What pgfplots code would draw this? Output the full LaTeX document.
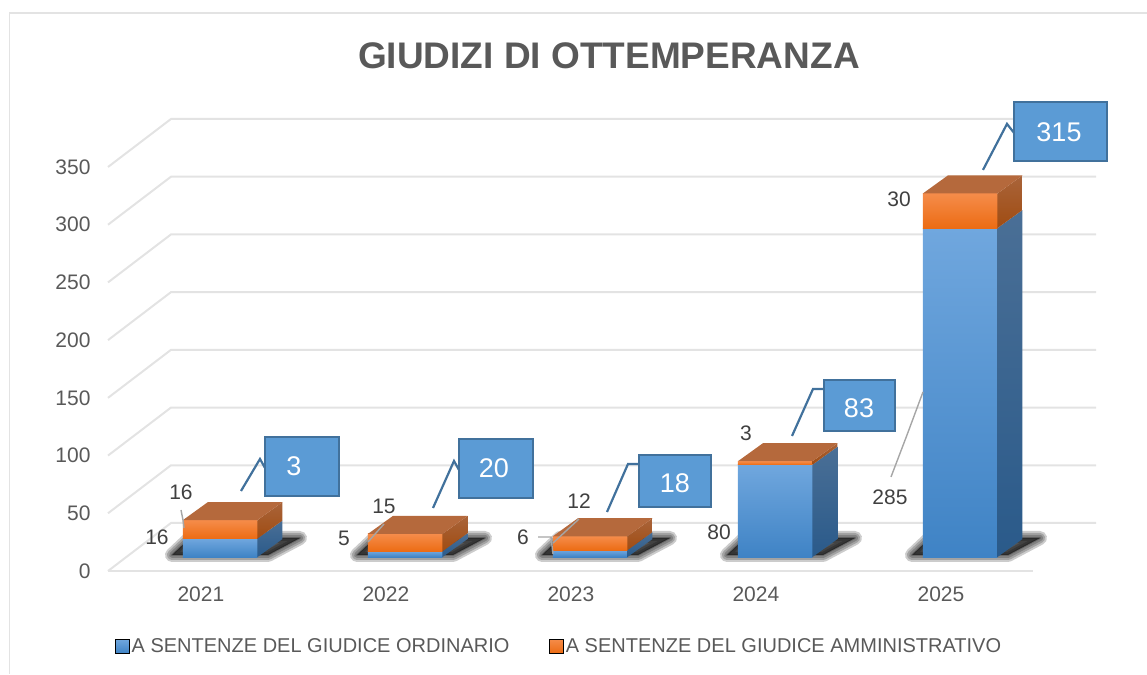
\documentclass[border=0pt]{standalone}
\usepackage{fontspec}
\setmainfont{Liberation Sans}
\usepackage{pgfplots}
\pgfplotsset{compat=1.18}

\definecolor{txt}{HTML}{595959}
\definecolor{lab}{HTML}{404040}
\definecolor{gridc}{HTML}{E3E3E3}
\definecolor{boxfill}{HTML}{5B9BD5}
\definecolor{boxline}{HTML}{41719C}
\definecolor{blueA}{HTML}{70A7DE}
\definecolor{blueB}{HTML}{3F83C5}
\definecolor{sideA}{HTML}{4A6F96}
\definecolor{sideB}{HTML}{2A5A8A}
\definecolor{oraA}{HTML}{F58C4A}
\definecolor{oraB}{HTML}{EC6C14}
\definecolor{osideA}{HTML}{A9643A}
\definecolor{osideB}{HTML}{A04C12}
\definecolor{otop}{HTML}{B5693C}

% reference pixels to axis units
\newcommand{\toX}[2]{\pgfmathsetmacro#1{2020.395+(#2-108)/185}}
\newcommand{\toY}[2]{\pgfmathsetmacro#1{(571-#2)/1.154}}

% bar geometry
\def\barw{0.403}
\def\depx{0.135}
\def\depy{15.6}
\def\barbase{12.1}

\newcommand{\face}[9]{% style, four corners
  \edef\tmp{\noexpand\addplot[forget plot,draw=none,#1] coordinates {(#2,#3)(#4,#5)(#6,#7)(#8,#9)} --cycle;}\tmp
}
\newcommand{\segment}[5]{% year, bottom, top, front colours, side colours
  \pgfmathsetmacro\bxl{#1-0.2}\pgfmathsetmacro\bxr{\bxl+\barw}\pgfmathsetmacro\bxb{\bxr+\depx}
  \pgfmathsetmacro\byb{\barbase+#2}\pgfmathsetmacro\byt{\barbase+#3}
  \pgfmathsetmacro\bybb{\byb+\depy}\pgfmathsetmacro\bytb{\byt+\depy}
  \face{#4}{\bxl}{\byb}{\bxr}{\byb}{\bxr}{\byt}{\bxl}{\byt}
  \face{#5}{\bxr}{\byb}{\bxb}{\bybb}{\bxb}{\bytb}{\bxr}{\byt}
}
\newcommand{\tdbar}[3]{% year, ordinario, amministrativo
  \pgfmathsetmacro\btot{#2+#3}
  \segment{#1}{0}{#2}{top color=blueA,bottom color=blueB}{top color=sideA,bottom color=sideB}
  \segment{#1}{#2}{\btot}{top color=oraA,bottom color=oraB}{top color=osideA,bottom color=osideB}
  \pgfmathsetmacro\bxl{#1-0.2}\pgfmathsetmacro\bxr{\bxl+\barw}
  \pgfmathsetmacro\byt{\barbase+\btot}\pgfmathsetmacro\bytb{\byt+\depy}
  \pgfmathsetmacro\bxlb{\bxl+\depx}\pgfmathsetmacro\bxrb{\bxr+\depx}
  \face{fill=otop}{\bxl}{\byt}{\bxr}{\byt}{\bxrb}{\bytb}{\bxlb}{\bytb}
}
\newcommand{\barshadow}[1]{% soft shadow on the floor, built from stacked strokes
  \pgfmathsetmacro\shox{185*(#1-2021)}
  \toX\shxa{\shox+172}\toX\shxb{\shox+190}\toX\shxc{\shox+300}\toX\shxd{\shox+268}
  \toY\shya{555}\toY\shyb{538}
  \pgfplotsinvokeforeach{14,10,6,2}{
    \edef\tmp{\noexpand\addplot[forget plot,fill=black,draw=black,line width=##1pt,line join=round,fill opacity=0.2,draw opacity=0.2]
      coordinates {(\shxa,\shya)(\shxb,\shyb)(\shxc,\shyb)(\shxd,\shya)} --cycle;}\tmp
  }
}
\newcommand{\lbl}[4]{% px, py, style, text
  \toX\lblx{#1}\toY\lbly{#2}
  \edef\tmp{\noexpand\node[#3] at (axis cs:\lblx,\lbly)}\tmp{#4};
}
\newcommand{\callout}[7]{% box left, top, right, bottom, text x, text y, text
  \toX\qa{#1}\toY\qb{#2}\toX\qc{#3}\toY\qd{#4}
  \edef\tmp{\noexpand\addplot[forget plot,fill=boxfill,draw=boxline,line width=2.5pt] coordinates {(\qa,\qb)(\qc,\qb)(\qc,\qd)(\qa,\qd)} --cycle;}\tmp
  \lbl{#5}{#6}{boxlab}{#7}
}
\newcommand{\ldr}[7]{% style, three points
  \toX\qa{#2}\toY\qb{#3}\toX\qc{#4}\toY\qd{#5}\toX\qe{#6}\toY\qf{#7}
  \edef\tmp{\noexpand\addplot[forget plot,#1] coordinates {(\qa,\qb)(\qc,\qd)(\qe,\qf)};}\tmp
}

\tikzset{
  datalab/.style={text=lab,font=\fontsize{21}{24}\selectfont,inner sep=0pt},
  boxlab/.style={text=white,font=\fontsize{27}{30}\selectfont,inner sep=0pt},
}

\begin{document}
\begin{tikzpicture}
\path[use as bounding box] (-108pt,-103pt) rectangle (1039pt,571pt);
\begin{axis}[
  at={(0pt,0pt)}, anchor=south west,
  scale only axis, width=925pt, height=404pt,
  xmin=2020.395, xmax=2025.395, ymin=0, ymax=350,
  clip=false,
  axis line style={draw=none},
  major tick length=0pt,
  xtick={2021,2022,2023,2024,2025},
  xticklabels={2021,2022,2023,2024,2025},
  ytick={0,50,...,350},
  /pgf/number format/assume math mode=true,
  tick label style={text=txt,font=\fontsize{21}{24}\selectfont},
  xticklabel style={xshift=-19pt,yshift=-12pt},
  yticklabel style={xshift=-14pt},
  title={GIUDIZI DI OTTEMPERANZA},
  title style={at={(0.5416,1.26)},anchor=center,text=txt,font=\bfseries\fontsize{37}{40}\selectfont},
  legend columns=2,
  legend cell align=left,
  legend style={at={(0.0076,-0.186)},anchor=west,draw=none,fill=none,inner sep=0pt,
    font=\fontsize{20}{24}\selectfont,text=txt,
    /tikz/every even column/.append style={column sep=38pt}},
]
% frame
\ldr{gridc,line width=1.8pt}{9.5}{674}{9.5}{13}{1147}{13}

% back walls and floor
\pgfplotsinvokeforeach{0,50,...,350}{
  \pgfmathsetmacro\gxb{2020.395+0.3405}\pgfmathsetmacro\gxc{2025.395+0.3405}
  \pgfmathsetmacro\gyb{#1+41.6}
  \edef\tmp{\noexpand\addplot[forget plot,gridc,line width=2pt] coordinates {(2020.395,#1)(\gxb,\gyb)(\gxc,\gyb)};}\tmp
}
\addplot[forget plot,gridc,line width=2pt] coordinates {(2020.395,0)(2025.395,0)};

% shadows
\barshadow{2021}\barshadow{2022}\barshadow{2023}\barshadow{2024}\barshadow{2025}

% bars: year, ordinario, amministrativo
\tdbar{2021}{16}{16}
\tdbar{2022}{5}{15}
\tdbar{2023}{6}{12}
\tdbar{2024}{80}{3}
\tdbar{2025}{285}{30}

% legend
\addlegendimage{legend image code/.code={\path[top color=blueA,bottom color=blueB] (0pt,-7pt) rectangle (14pt,7pt);}}
\addlegendentry{A SENTENZE DEL GIUDICE ORDINARIO}
\addlegendimage{legend image code/.code={\path[top color=oraA,bottom color=oraB] (0pt,-7pt) rectangle (14pt,7pt);}}
\addlegendentry{A SENTENZE DEL GIUDICE AMMINISTRATIVO}

% leader lines of the segment labels
\ldr{gray!70,line width=1.4pt}{181}{510}{183}{520}{184}{528}
\ldr{gray!70,line width=1.4pt}{384}{524}{376}{533}{368}{542}
\ldr{gray!70,line width=1.4pt}{538}{537}{551}{537}{553}{554}
\ldr{gray!70,line width=1.4pt}{579}{519}{566}{531}{553}{543}
\ldr{gray!70,line width=1.4pt}{891}{477}{907}{435}{923}{392}

% segment labels
\lbl{157}{537}{datalab}{16}
\lbl{181}{492}{datalab}{16}
\lbl{344}{538}{datalab}{5}
\lbl{384}{506}{datalab}{15}
\lbl{523}{537}{datalab}{6}
\lbl{579}{501}{datalab}{12}
\lbl{719}{532}{datalab}{80}
\lbl{746}{433}{datalab}{3}
\lbl{890}{497}{datalab}{285}
\lbl{899}{199}{datalab}{30}

% total callouts
\ldr{boxline,line width=2.2pt}{241}{491}{260}{459}{265}{468}
\ldr{boxline,line width=2.2pt}{433}{508}{454}{461}{459}{470}
\ldr{boxline,line width=2.2pt}{607}{512}{628}{464}{639}{464}
\ldr{boxline,line width=2.2pt}{792}{436}{813}{389}{824}{389}
\ldr{boxline,line width=2.2pt}{983}{170}{1007}{124}{1014}{133}
\callout{265}{437}{339}{496}{294}{466}{3}
\callout{459}{439}{533}{498}{494}{468}{20}
\callout{639}{455}{711}{507}{675}{483}{18}
\callout{824}{380}{895}{431}{859}{408}{83}
\callout{1014}{102}{1107}{161}{1059}{132}{315}
\end{axis}
\end{tikzpicture}
\end{document}
